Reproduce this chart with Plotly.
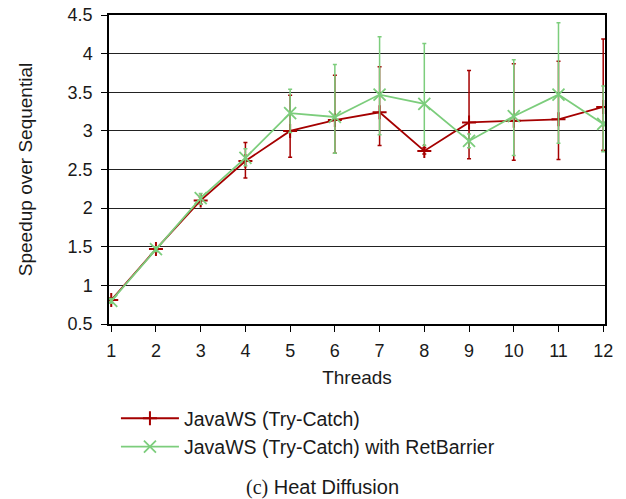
import plotly.graph_objects as go

threads = [1, 2, 3, 4, 5, 6, 7, 8, 9, 10, 11, 12]
y_ticks = [0.5, 1, 1.5, 2, 2.5, 3, 3.5, 4, 4.5]
y_labels = ["0.5", "1", "1.5", "2", "2.5", "3", "3.5", "4", "4.5"]

# JavaWS (Try-Catch)
tc_mean = [0.81, 1.47, 2.10, 2.61, 3.00, 3.14, 3.24, 2.74, 3.11, 3.13, 3.15, 3.31]
tc_hi = [0.84, 1.50, 2.14, 2.85, 3.46, 3.72, 3.83, 2.78, 3.78, 3.87, 3.90, 4.19]
tc_lo = [0.78, 1.44, 2.05, 2.39, 2.66, 2.71, 2.81, 2.70, 2.64, 2.62, 2.63, 2.75]

# JavaWS (Try-Catch) with RetBarrier
rb_mean = [0.80, 1.47, 2.13, 2.65, 3.23, 3.18, 3.47, 3.35, 2.87, 3.19, 3.47, 3.09]
rb_hi = [0.83, 1.50, 2.19, 2.77, 3.54, 3.86, 4.22, 4.13, 2.96, 3.92, 4.40, 3.58]
rb_lo = [0.77, 1.44, 2.05, 2.55, 2.98, 2.71, 2.95, 2.81, 2.78, 2.68, 2.84, 2.73]

red = "#a50000"
green = "#7ccd7c"


def err(mean, hi, lo, color):
    return dict(type="data", symmetric=False,
                array=[h - m for h, m in zip(hi, mean)],
                arrayminus=[m - l for m, l in zip(mean, lo)],
                color=color, thickness=1.5, width=2)


fig = go.Figure()
fig.add_trace(go.Scatter(
    x=threads, y=tc_mean, mode="lines+markers", name="JavaWS (Try-Catch)",
    line=dict(color=red, width=1.8),
    marker=dict(symbol="cross-thin", size=10, line=dict(color=red, width=2)),
    error_y=err(tc_mean, tc_hi, tc_lo, red)))
fig.add_trace(go.Scatter(
    x=threads, y=rb_mean, mode="lines+markers", name="JavaWS (Try-Catch) with RetBarrier",
    line=dict(color=green, width=1.8),
    marker=dict(symbol="x-thin", size=12, line=dict(color=green, width=1.8)),
    error_y=err(rb_mean, rb_hi, rb_lo, green)))

font = "Liberation Sans, Arial, sans-serif"
fig.update_layout(
    width=626, height=499,
    margin=dict(l=109, r=21, t=15, b=175),
    plot_bgcolor="white", paper_bgcolor="white",
    font=dict(family=font, size=18, color="#1a1a1a"),
    showlegend=True,
    legend=dict(x=0.014, y=-0.243, xanchor="left", yanchor="top",
                font=dict(size=19.5), tracegroupgap=0, itemwidth=58,
                bgcolor="rgba(0,0,0,0)"),
    xaxis=dict(range=[0.95, 12.04], tickvals=threads, ticks="outside", ticklen=6,
               tickcolor="black", showline=True, linecolor="black", linewidth=1.5,
               mirror=True, showgrid=False, zeroline=False, automargin=False,
               ticklabelstandoff=4,
               title=dict(text="Threads", standoff=10, font=dict(size=19))),
    yaxis=dict(range=[0.5, 4.5], tickvals=y_ticks, ticktext=y_labels,
               ticks="outside", ticklen=6,
               tickcolor="black", showline=True, linecolor="black", linewidth=1.5,
               mirror=True, showgrid=True, gridcolor="#222", gridwidth=1,
               zeroline=False, automargin=False, ticklabelstandoff=5,
               title=dict(text="Speedup over Sequential", standoff=30, font=dict(size=19))),
    annotations=[dict(
        text="<span style='font-family:Liberation Serif, serif'>(c)</span> Heat Diffusion",
        xref="paper", yref="paper", x=0.43, y=-0.53, xanchor="center", yanchor="middle",
        showarrow=False, font=dict(size=20))],
)

fig.write_html("out.html", config={"displayModeBar": False},
               post_script="document.body.style.margin='0';")
